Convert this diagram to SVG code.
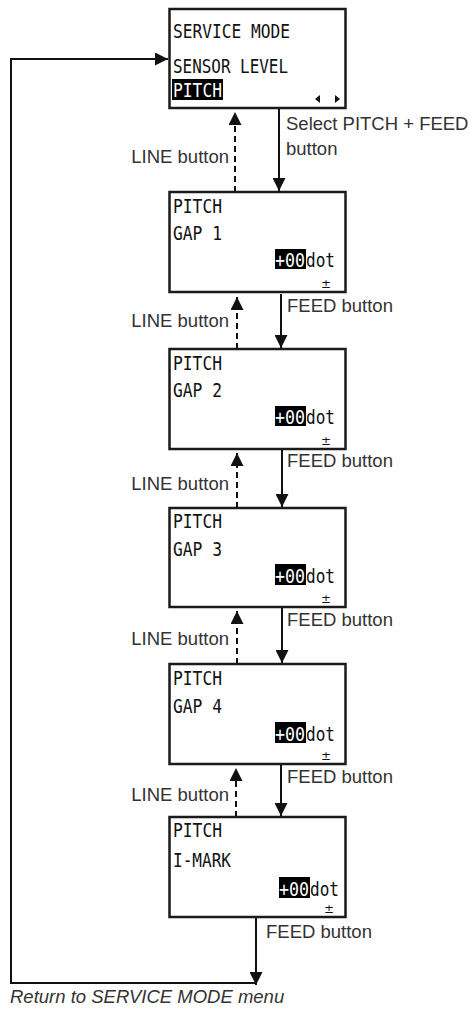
<svg xmlns="http://www.w3.org/2000/svg" width="469" height="1013" viewBox="0 0 469 1013">
<style>
.box{fill:#fff;stroke:#1a1a1a;stroke-width:2.5}
.lcd{font-family:"DejaVu Sans Mono","Liberation Mono",monospace;font-size:19px;fill:#111}
.inv{fill:#fff}
.hl{fill:#000}
.pm{font-family:"DejaVu Sans","Liberation Sans",sans-serif;font-size:12px;fill:#111}
.lbl{font-family:"Liberation Sans",Arial,sans-serif;font-size:18.5px;fill:#333}
.it{font-style:italic}
.c{fill:none;stroke:#111;stroke-width:2}
.d{stroke-dasharray:6 4}
</style>
<defs>
<marker id="ah" markerUnits="userSpaceOnUse" markerWidth="14" markerHeight="13" refX="13" refY="6.5" orient="auto">
<path d="M0,0 L13,6.5 L0,13 z" fill="#111"/>
</marker>
</defs>

<g id="connectors">
<path class="c" d="M256,918 V985" marker-end="url(#ah)"/>
<path class="c" d="M256,983 H11 V59 H168" marker-end="url(#ah)"/>
<path class="c" d="M279,109 V191" marker-end="url(#ah)"/>
<path class="c" d="M281,294 V348" marker-end="url(#ah)"/>
<path class="c" d="M282,450 V507" marker-end="url(#ah)"/>
<path class="c" d="M282,608 V663" marker-end="url(#ah)"/>
<path class="c" d="M281,765 V816" marker-end="url(#ah)"/>
<path class="c d" d="M235,192 V112" marker-end="url(#ah)"/>
<path class="c d" d="M237,349 V297" marker-end="url(#ah)"/>
<path class="c d" d="M237,508 V453" marker-end="url(#ah)"/>
<path class="c d" d="M237,664 V611" marker-end="url(#ah)"/>
<path class="c d" d="M236,817 V768" marker-end="url(#ah)"/>
<text class="lbl" x="286" y="130">Select PITCH + FEED</text>
<text class="lbl" x="286" y="155">button</text>
<text class="lbl" x="229" y="163" text-anchor="end">LINE button</text>
<text class="lbl" x="287" y="312">FEED button</text>
<text class="lbl" x="229" y="327" text-anchor="end">LINE button</text>
<text class="lbl" x="287" y="467">FEED button</text>
<text class="lbl" x="229" y="490" text-anchor="end">LINE button</text>
<text class="lbl" x="287" y="626">FEED button</text>
<text class="lbl" x="229" y="645" text-anchor="end">LINE button</text>
<text class="lbl" x="287" y="783">FEED button</text>
<text class="lbl" x="229" y="801" text-anchor="end">LINE button</text>
<text class="lbl" x="266" y="938">FEED button</text>
<text class="lbl it" x="10" y="1003">Return to SERVICE MODE menu</text>
</g>

<g id="node-service-mode">
<rect class="box" x="169.5" y="9" width="176" height="99"/>
<text class="lcd" x="173" y="38" textLength="117" lengthAdjust="spacingAndGlyphs">SERVICE MODE</text>
<text class="lcd" x="173" y="73" textLength="115" lengthAdjust="spacingAndGlyphs">SENSOR LEVEL</text>
<rect class="hl" x="172" y="79" width="51" height="21"/>
<text class="lcd inv" x="173" y="97" textLength="49" lengthAdjust="spacingAndGlyphs">PITCH</text>
<polygon points="315,99 320,95 320,103" fill="#111"/>
<polygon points="335,95 340,99 335,103" fill="#111"/>
</g>

<g id="node-gap1">
<rect class="box" x="169.5" y="192" width="176" height="100"/>
<text class="lcd" x="173" y="213" textLength="49" lengthAdjust="spacingAndGlyphs">PITCH</text>
<text class="lcd" x="173" y="240" textLength="49" lengthAdjust="spacingAndGlyphs">GAP 1</text>
<rect class="hl" x="275" y="249" width="31" height="20"/>
<text class="lcd inv" x="275" y="267" textLength="30" lengthAdjust="spacingAndGlyphs">+00</text>
<text class="lcd" x="306" y="267" textLength="29" lengthAdjust="spacingAndGlyphs">dot</text>
<text class="pm" x="326" y="288" text-anchor="middle">±</text>
</g>

<g id="node-gap2">
<rect class="box" x="169.5" y="349" width="176" height="100"/>
<text class="lcd" x="173" y="370" textLength="49" lengthAdjust="spacingAndGlyphs">PITCH</text>
<text class="lcd" x="173" y="397" textLength="49" lengthAdjust="spacingAndGlyphs">GAP 2</text>
<rect class="hl" x="275" y="406" width="31" height="20"/>
<text class="lcd inv" x="275" y="424" textLength="30" lengthAdjust="spacingAndGlyphs">+00</text>
<text class="lcd" x="306" y="424" textLength="29" lengthAdjust="spacingAndGlyphs">dot</text>
<text class="pm" x="326" y="445" text-anchor="middle">±</text>
</g>

<g id="node-gap3">
<rect class="box" x="169.5" y="508" width="176" height="99"/>
<text class="lcd" x="173" y="528" textLength="49" lengthAdjust="spacingAndGlyphs">PITCH</text>
<text class="lcd" x="173" y="556" textLength="49" lengthAdjust="spacingAndGlyphs">GAP 3</text>
<rect class="hl" x="275" y="564" width="31" height="21"/>
<text class="lcd inv" x="275" y="583" textLength="30" lengthAdjust="spacingAndGlyphs">+00</text>
<text class="lcd" x="306" y="583" textLength="29" lengthAdjust="spacingAndGlyphs">dot</text>
<text class="pm" x="326" y="603" text-anchor="middle">±</text>
</g>

<g id="node-gap4">
<rect class="box" x="169.5" y="664" width="176" height="100"/>
<text class="lcd" x="173" y="685" textLength="49" lengthAdjust="spacingAndGlyphs">PITCH</text>
<text class="lcd" x="173" y="713" textLength="49" lengthAdjust="spacingAndGlyphs">GAP 4</text>
<rect class="hl" x="275" y="722" width="31" height="21"/>
<text class="lcd inv" x="275" y="741" textLength="30" lengthAdjust="spacingAndGlyphs">+00</text>
<text class="lcd" x="306" y="741" textLength="29" lengthAdjust="spacingAndGlyphs">dot</text>
<text class="pm" x="326" y="760" text-anchor="middle">±</text>
</g>

<g id="node-imark">
<rect class="box" x="169.5" y="817" width="176" height="100"/>
<text class="lcd" x="173" y="837" textLength="49" lengthAdjust="spacingAndGlyphs">PITCH</text>
<text class="lcd" x="173" y="867" textLength="58" lengthAdjust="spacingAndGlyphs">I-MARK</text>
<rect class="hl" x="279" y="877" width="31" height="21"/>
<text class="lcd inv" x="279" y="896" textLength="30" lengthAdjust="spacingAndGlyphs">+00</text>
<text class="lcd" x="310" y="896" textLength="29" lengthAdjust="spacingAndGlyphs">dot</text>
<text class="pm" x="329" y="913" text-anchor="middle">±</text>
</g>
</svg>
